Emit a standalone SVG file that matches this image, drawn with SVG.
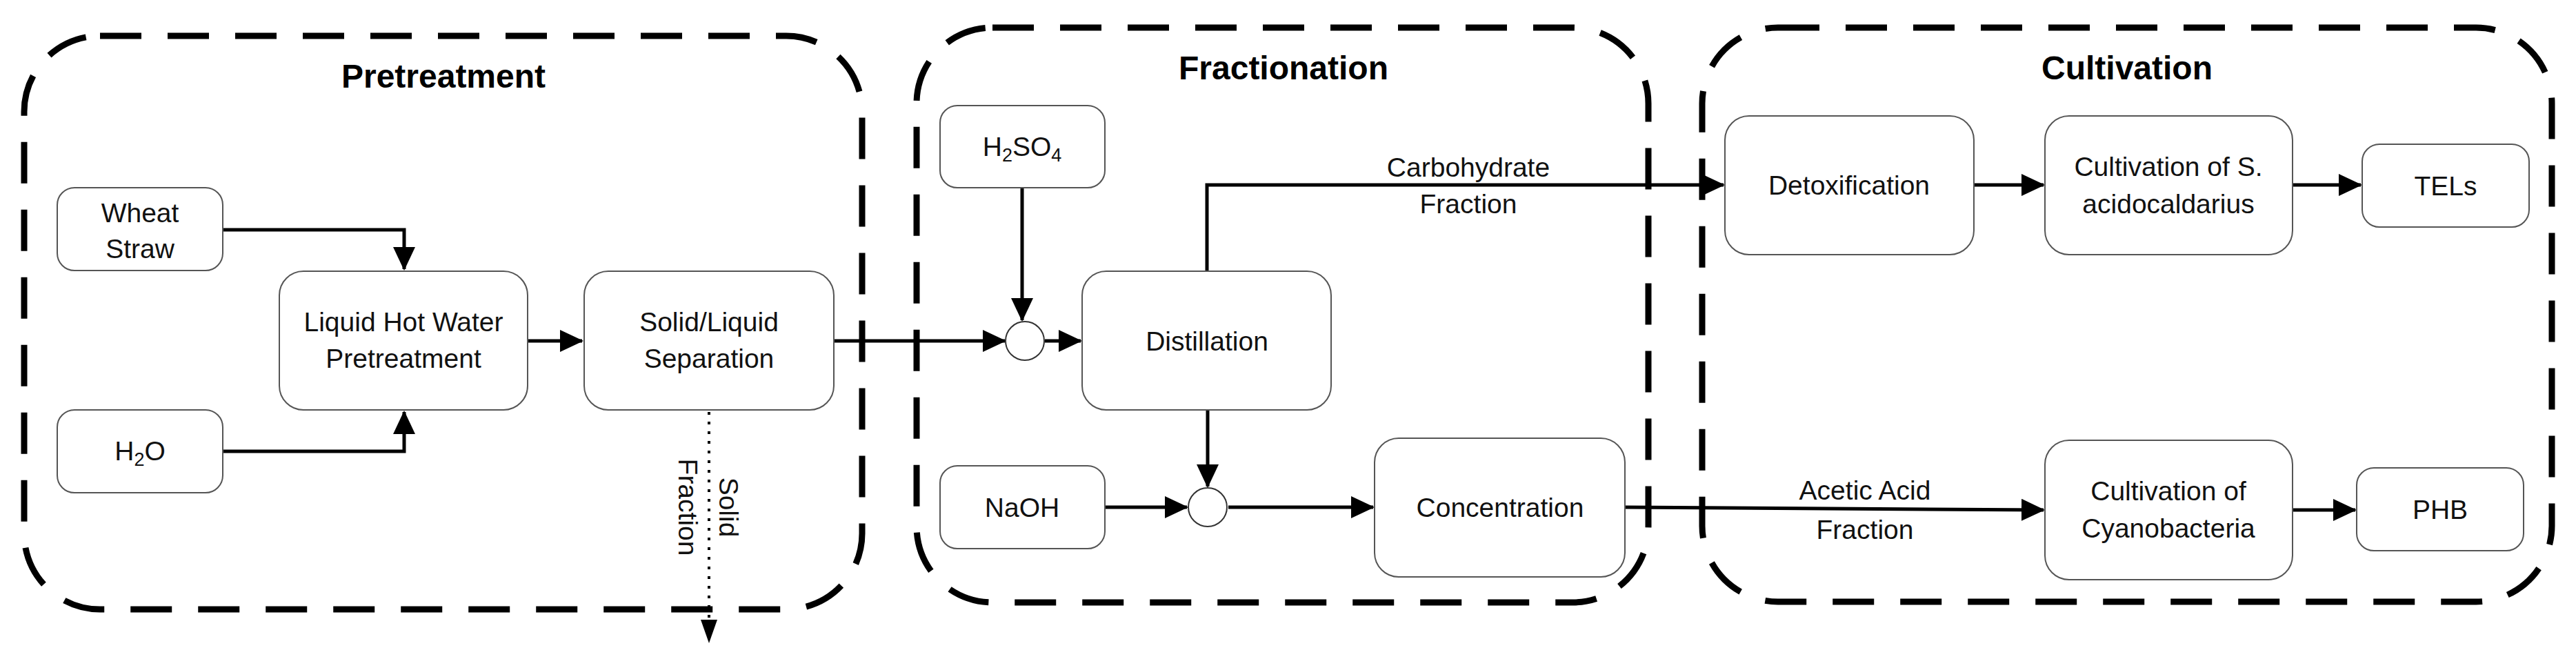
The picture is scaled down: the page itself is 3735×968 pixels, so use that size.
<svg xmlns="http://www.w3.org/2000/svg" width="3735" height="968" viewBox="0 0 3735 968">
<style>
.grp{fill:none;stroke:#000;stroke-width:9;stroke-dasharray:60 38}
.box{fill:#fff;stroke:#555;stroke-width:2}
.t{font-family:"Liberation Sans",Arial,sans-serif;font-size:39px;text-anchor:middle;fill:#111}
.h{font-family:"Liberation Sans",Arial,sans-serif;font-size:48px;font-weight:bold;text-anchor:middle;fill:#000}
.c{fill:none;stroke:#000;stroke-width:5}
.d{fill:none;stroke:#000;stroke-width:4;stroke-dasharray:4 10}
.s{font-size:27px}
</style>
<defs>
<marker id="a" markerUnits="userSpaceOnUse" markerWidth="34" markerHeight="32" refX="32" refY="16" orient="auto"><path d="M0,0L34,16L0,32Z" fill="#000"/></marker>
</defs>
<rect width="3735" height="968" fill="#fff"/>
<g id="pretreatment-group"><rect class="grp" x="35" y="52" width="1215" height="831" rx="110"/><text class="h" x="643" y="127">Pretreatment</text></g>
<g id="fractionation-group"><rect class="grp" x="1329" y="40" width="1061" height="833" rx="110"/><text class="h" x="1861" y="115">Fractionation</text></g>
<g id="cultivation-group"><rect class="grp" x="2468" y="40" width="1232" height="832" rx="110"/><text class="h" x="3084" y="115">Cultivation</text></g>
<g id="connectors">
<path class="c" d="M322,333H586V390" marker-end="url(#a)"/>
<path class="c" d="M322,654H586V597" marker-end="url(#a)"/>
<path class="c" d="M765,494H844" marker-end="url(#a)"/>
<path class="c" d="M1209,494H1457" marker-end="url(#a)"/>
<path class="c" d="M1482,272V464" marker-end="url(#a)"/>
<path class="c" d="M1515,494H1567" marker-end="url(#a)"/>
<path class="c" d="M1750,393V268H2499" marker-end="url(#a)"/>
<path class="c" d="M1751,594V705" marker-end="url(#a)"/>
<path class="c" d="M1602,735H1721" marker-end="url(#a)"/>
<path class="c" d="M1781,735H1991" marker-end="url(#a)"/>
<path class="c" d="M2356,735L2963,739" marker-end="url(#a)"/>
<path class="c" d="M2862,268H2963" marker-end="url(#a)"/>
<path class="c" d="M3324,268H3423" marker-end="url(#a)"/>
<path class="c" d="M3324,739H3415" marker-end="url(#a)"/>
<path class="d" d="M1028,597V900"/>
<path d="M1016,898L1040,898L1028,932Z" fill="#000"/>
<text class="t" x="2129" y="256">Carbohydrate</text><text class="t" x="2129" y="309">Fraction</text>
<text class="t" x="2704" y="724">Acetic Acid</text><text class="t" x="2704" y="781">Fraction</text>
<text class="t" transform="translate(1043,735) rotate(90)">Solid</text>
<text class="t" transform="translate(984,735) rotate(90)">Fraction</text>
</g>
<g id="wheat-straw"><rect class="box" x="83" y="272" width="240" height="120" rx="25"/><text class="t" x="203" y="322">Wheat</text><text class="t" x="203" y="374">Straw</text></g>
<g id="h2o"><rect class="box" x="83" y="594" width="240" height="120" rx="25"/><text class="t" x="203" y="667">H<tspan class="s" dy="8">2</tspan><tspan dy="-8">O</tspan></text></g>
<g id="lhw"><rect class="box" x="405" y="393" width="360" height="201" rx="35"/><text class="t" x="585" y="480">Liquid Hot Water</text><text class="t" x="585" y="533">Pretreatment</text></g>
<g id="sls"><rect class="box" x="847" y="393" width="362" height="201" rx="35"/><text class="t" x="1028" y="480">Solid/Liquid</text><text class="t" x="1028" y="533">Separation</text></g>
<g id="h2so4"><rect class="box" x="1363" y="153" width="239" height="119" rx="25"/><text class="t" x="1482" y="226">H<tspan class="s" dy="8">2</tspan><tspan dy="-8">SO</tspan><tspan class="s" dy="8">4</tspan></text></g>
<g id="mixer1"><circle cx="1486" cy="494" r="28" fill="#fff" stroke="#333" stroke-width="2"/></g>
<g id="distillation"><rect class="box" x="1569" y="393" width="361" height="201" rx="35"/><text class="t" x="1750" y="508">Distillation</text></g>
<g id="naoh"><rect class="box" x="1363" y="675" width="239" height="120" rx="25"/><text class="t" x="1482" y="749">NaOH</text></g>
<g id="mixer2"><circle cx="1751" cy="735" r="28" fill="#fff" stroke="#333" stroke-width="2"/></g>
<g id="concentration"><rect class="box" x="1993" y="635" width="363" height="201" rx="35"/><text class="t" x="2175" y="749">Concentration</text></g>
<g id="detox"><rect class="box" x="2501" y="168" width="361" height="201" rx="35"/><text class="t" x="2681" y="282">Detoxification</text></g>
<g id="cult-s"><rect class="box" x="2965" y="168" width="359" height="201" rx="35"/><text class="t" x="3144" y="255">Cultivation of S.</text><text class="t" x="3144" y="309">acidocaldarius</text></g>
<g id="tels"><rect class="box" x="3425" y="209" width="242" height="120" rx="25"/><text class="t" x="3546" y="283">TELs</text></g>
<g id="cult-c"><rect class="box" x="2965" y="638" width="359" height="202" rx="35"/><text class="t" x="3144" y="725">Cultivation of</text><text class="t" x="3144" y="779">Cyanobacteria</text></g>
<g id="phb"><rect class="box" x="3417" y="678" width="242" height="120" rx="25"/><text class="t" x="3538" y="752">PHB</text></g>
</svg>
